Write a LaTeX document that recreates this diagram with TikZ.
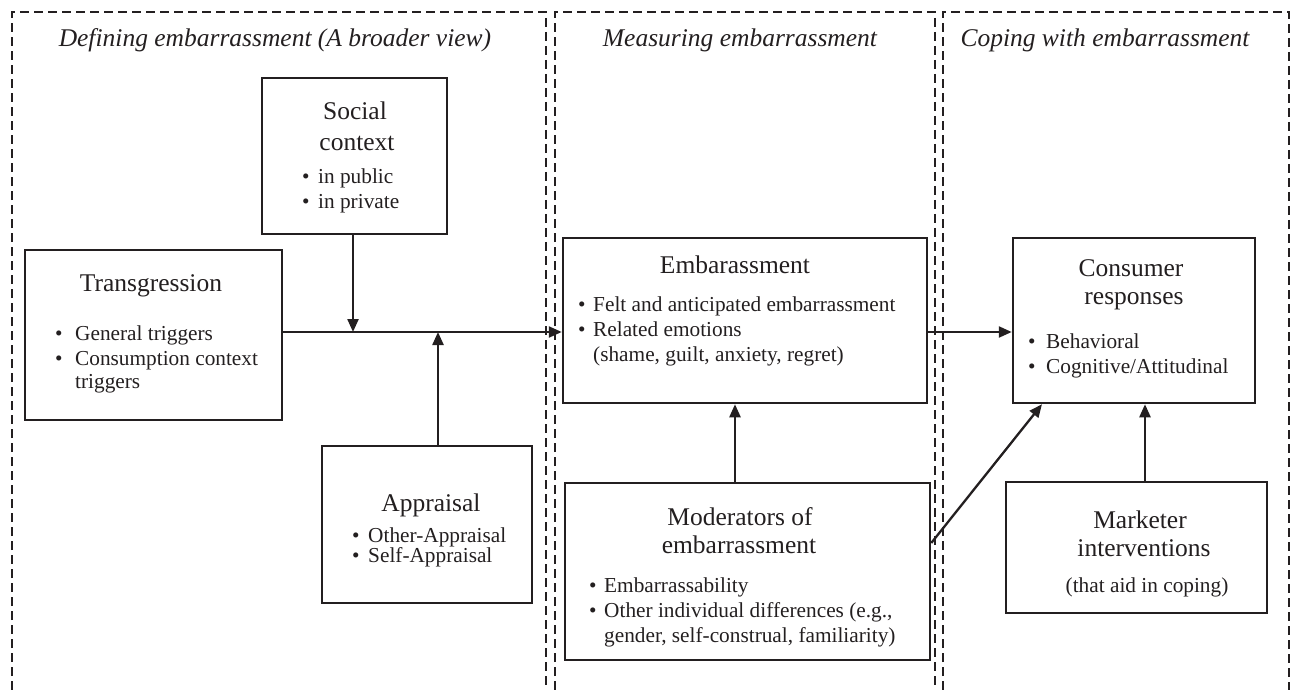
\documentclass[tikz,border=0pt]{standalone}
\usepackage{fontspec}
\setmainfont{Liberation Serif}
\usetikzlibrary{arrows.meta}
\definecolor{ink}{HTML}{231F20}
\newcommand{\bitem}[2]{\makebox[#1pt][l]{•}#2}
\begin{document}
\begin{tikzpicture}[x=1pt,y=-1pt,
  box/.style={draw=ink, line width=2.5pt, inner sep=0pt},
  arr/.style={draw=ink, line width=2.3pt, -{Triangle[length=13pt,width=11pt]}},
  panel/.style={draw=ink, line width=2.2pt, dash pattern=on 9pt off 5pt},
  ttl/.style={text=ink, font=\fontsize{25.5}{30}\selectfont, anchor=base, inner sep=0pt},
  bl/.style={text=ink, font=\fontsize{21.3}{25}\selectfont, anchor=base west, inner sep=0pt},
  hd/.style={text=ink, font=\itshape\fontsize{25.5}{30}\selectfont, anchor=base, inner sep=0pt}]
\useasboundingbox (0,0) rectangle (1291,690);
% panels
\draw[panel] (12,690) -- (12,12) -- (546,12) -- (546,690);
\draw[panel] (555,690) -- (555,12) -- (935,12) -- (935,690);
\draw[panel] (943,690) -- (943,12) -- (1289,12) -- (1289,690);
\node[hd] (h1) at (275,47) {Defining embarrassment (A broader view)};
\node[hd] (h2) at (740,47) {Measuring embarrassment};
\node[hd] (h3) at (1105,47) {Coping with embarrassment};
% boxes
\node[box, minimum width=257pt, minimum height=170pt] (trans) at (153.5,335) {};
\node[box, minimum width=185pt, minimum height=156pt] (social) at (354.5,156) {};
\node[box, minimum width=210pt, minimum height=157pt] (appr) at (427,524.5) {};
\node[box, minimum width=364pt, minimum height=165pt] (emb) at (745,320.5) {};
\node[box, minimum width=365pt, minimum height=177pt] (mod) at (747.5,571.5) {};
\node[box, minimum width=242pt, minimum height=165pt] (cons) at (1134,320.5) {};
\node[box, minimum width=261pt, minimum height=131pt] (mark) at (1136.5,547.5) {};
% texts: transgression
\node[ttl] (t1) at (151,291) {Transgression};
\node[bl] (t2) at (55,340) {\bitem{20}{General triggers}};
\node[bl] (t3) at (55,365) {\bitem{20}{Consumption context}};
\node[bl] (t4) at (75,388) {triggers};
% social
\node[ttl] (s1) at (355,120) {Social};
\node[ttl] (s2) at (357,151) {context};
\node[bl] (s3) at (302,184) {\bitem{16}{in public}};
\node[bl] (s4) at (302,208) {\bitem{16}{in private}};
% appraisal
\node[ttl] (a1) at (431,511) {Appraisal};
\node[bl] (a2) at (352,542) {\bitem{16}{Other-Appraisal}};
\node[bl] (a3) at (352,562) {\bitem{16}{Self-Appraisal}};
% embarrassment
\node[ttl] (e1) at (735,273) {Embarassment};
\node[bl] (e2) at (578,311) {\bitem{15}{Felt and anticipated embarrassment}};
\node[bl] (e3) at (578,336) {\bitem{15}{Related emotions}};
\node[bl] (e4) at (593,361) {(shame, guilt, anxiety, regret)};
% moderators
\node[ttl] (m1) at (740,525) {Moderators of};
\node[ttl] (m2) at (739,553) {embarrassment};
\node[bl] (m3) at (589,592) {\bitem{15}{Embarrassability}};
\node[bl] (m4) at (589,617) {\bitem{15}{Other individual differences (e.g.,}};
\node[bl] (m5) at (604,642) {gender, self-construal, familiarity)};
% consumer
\node[ttl] (c1) at (1131,276) {Consumer};
\node[ttl] (c2) at (1134,304) {responses};
\node[bl] (c3) at (1028,348) {\bitem{18}{Behavioral}};
\node[bl] (c4) at (1028,373) {\bitem{18}{Cognitive/Attitudinal}};
% marketer
\node[ttl] (k1) at (1140,528) {Marketer};
\node[ttl] (k2) at (1144,556) {interventions};
\node[bl, anchor=base] (k3) at (1147,592) {(that aid in coping)};
% connectors
\coordinate (hy) at (0,332);
\coordinate (sx) at (353,0);
\coordinate (ax) at (438,0);
\coordinate (mx) at (735,0);
\coordinate (kx) at (1145,0);
\coordinate (dfrom) at (929,543);
\coordinate (dto) at (1042,403);
\draw[arr] (trans.east |- hy) -- (emb.west |- hy);
\draw[arr] (social.south -| sx) -- (hy -| sx);
\draw[arr] (appr.north -| ax) -- (hy -| ax);
\draw[arr] (mod.north -| mx) -- (emb.south -| mx);
\draw[arr] (emb.east |- hy) -- (cons.west |- hy);
\draw[arr] (mod.east |- dfrom) -- (cons.south -| dto);
\draw[arr] (mark.north -| kx) -- (cons.south -| kx);
\end{tikzpicture}
\end{document}
